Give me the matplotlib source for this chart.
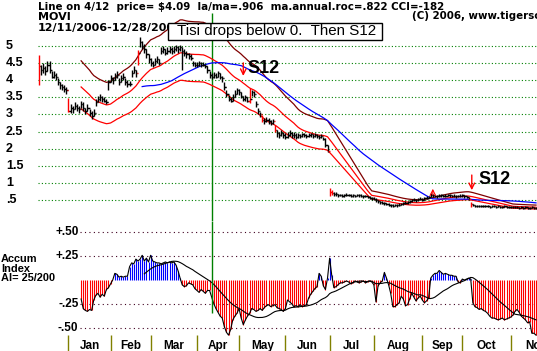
import numpy as np
import pandas as pd
import matplotlib
matplotlib.use("Agg")
import matplotlib.pyplot as plt
from matplotlib.patches import Rectangle

plt.rcParams['font.family'] = ['Liberation Sans', 'DejaVu Sans']

W, H = 537, 351

# daily bars, trading day 0 = 12/11/2006
closes = [4.40, 4.30, 4.35, 4.25, 4.45, 4.30, 4.10, 4.15, 4.10, 3.95,
          3.85, 3.80, 3.75, 3.70, 3.10, 3.20, 3.15, 3.25, 3.20, 3.15,
          3.30, 3.20, 3.10, 3.20, 3.05, 2.95, 3.05, 3.35, 3.45, 3.50,
          3.45, 3.40, 3.35, 3.95, 4.05, 4.00, 4.10, 4.15, 3.95, 4.05,
          4.10, 3.95, 3.90, 3.90, 4.20, 4.30, 4.20, 4.80, 5.10, 5.00,
          4.90, 4.75, 4.60, 4.50, 4.45, 4.55, 4.60, 4.50, 4.85, 4.90,
          4.80, 4.85, 4.90, 4.85, 4.90, 4.95, 4.90, 4.95, 4.85, 4.80,
          4.75, 4.70, 4.65, 4.50, 4.45, 4.45, 4.50, 4.45, 4.45, 4.40,
          4.30, 4.15, 4.09, 4.15, 4.10, 4.20, 4.10, 4.05, 3.80, 3.60,
          3.45, 3.40, 3.50, 3.60, 3.70, 3.65, 3.55, 3.45, 3.50, 3.40,
          3.45, 3.65, 3.60, 3.30, 3.10, 3.00, 2.85, 2.80, 2.85, 2.80,
          2.75, 2.80, 2.55, 2.45, 2.40, 2.45, 2.40, 2.35, 2.40, 2.45,
          2.40, 2.40, 2.35, 2.40, 2.38, 2.42, 2.40, 2.38, 2.40, 2.42,
          2.38, 2.40, 2.38, 2.35, 2.38, 2.30, 2.10, 1.95, 0.75, 0.72,
          0.70, 0.68, 0.65, 0.66, 0.64, 0.65, 0.67, 0.66, 0.64, 0.65,
          0.63, 0.66, 0.65, 0.64, 0.62, 0.63, 0.60, 0.58, 0.56, 0.55,
          0.50, 0.48, 0.45, 0.44, 0.42, 0.40, 0.38, 0.36, 0.35, 0.37,
          0.36, 0.38, 0.40, 0.42, 0.44, 0.45, 0.48, 0.50, 0.52, 0.50,
          0.53, 0.55, 0.52, 0.56, 0.58, 0.60, 0.66, 0.65, 0.63, 0.62,
          0.64, 0.65, 0.63, 0.64, 0.66, 0.65, 0.63, 0.64, 0.62, 0.63,
          0.64, 0.65, 0.62, 0.60, 0.55, 0.40, 0.36, 0.35, 0.34, 0.35,
          0.33, 0.34, 0.35, 0.33, 0.32, 0.33, 0.34, 0.32, 0.33, 0.31,
          0.32, 0.33, 0.30, 0.31, 0.32, 0.30, 0.31, 0.30, 0.29, 0.30,
          0.29, 0.30, 0.28, 0.29, 0.30, 0.28, 0.29]
highs = [4.73, 4.45, 4.50, 4.40, 4.55, 4.55, 4.25, 4.25, 4.20, 4.05,
         3.95, 3.90, 3.85, 3.80, 3.48, 3.30, 3.25, 3.36, 3.30, 3.25,
         3.40, 3.35, 3.20, 3.30, 3.15, 3.10, 3.15, 3.45, 3.55, 3.60,
         3.55, 3.50, 3.45, 4.00, 4.15, 4.10, 4.20, 4.25, 4.05, 4.15,
         4.20, 4.05, 4.00, 3.98, 4.30, 4.40, 4.30, 4.87, 5.25, 5.15,
         5.05, 4.90, 4.75, 4.65, 4.55, 4.65, 4.70, 4.60, 4.95, 5.00,
         4.90, 4.95, 4.98, 4.95, 4.98, 5.02, 4.98, 5.02, 4.95, 4.90,
         4.85, 4.80, 4.75, 4.55, 4.52, 4.52, 4.55, 4.52, 4.52, 4.48,
         4.40, 4.25, 4.20, 4.23, 4.20, 4.25, 4.20, 4.12, 3.94, 3.70,
         3.56, 3.50, 3.60, 3.70, 3.77, 3.75, 3.65, 3.55, 3.58, 3.50,
         3.77, 3.71, 3.68, 3.40, 3.20, 3.08, 2.98, 2.90, 2.93, 2.90,
         2.85, 2.88, 2.70, 2.55, 2.50, 2.55, 2.50, 2.45, 2.50, 2.55,
         2.50, 2.48, 2.45, 2.46, 2.44, 2.47, 2.45, 2.43, 2.46, 2.47,
         2.43, 2.46, 2.43, 2.40, 2.44, 2.36, 2.32, 2.10, 0.86, 0.80,
         0.76, 0.74, 0.70, 0.70, 0.68, 0.69, 0.71, 0.70, 0.68, 0.69,
         0.67, 0.70, 0.69, 0.68, 0.66, 0.67, 0.64, 0.62, 0.60, 0.59,
         0.56, 0.52, 0.49, 0.48, 0.46, 0.44, 0.42, 0.40, 0.39, 0.41,
         0.40, 0.42, 0.44, 0.46, 0.48, 0.49, 0.52, 0.54, 0.56, 0.54,
         0.57, 0.59, 0.56, 0.60, 0.62, 0.64, 0.72, 0.69, 0.67, 0.66,
         0.68, 0.69, 0.67, 0.68, 0.70, 0.69, 0.67, 0.68, 0.66, 0.67,
         0.68, 0.69, 0.66, 0.64, 0.60, 0.45, 0.39, 0.38, 0.37, 0.38,
         0.36, 0.37, 0.38, 0.36, 0.35, 0.36, 0.37, 0.35, 0.36, 0.34,
         0.35, 0.36, 0.33, 0.34, 0.35, 0.33, 0.34, 0.33, 0.32, 0.33,
         0.32, 0.33, 0.31, 0.32, 0.33, 0.31, 0.32]
lows = [3.86, 4.15, 4.20, 4.15, 4.25, 4.20, 4.05, 4.05, 4.00, 3.85,
        3.75, 3.70, 3.65, 3.60, 3.07, 3.05, 3.05, 3.15, 3.10, 3.05,
        3.20, 3.10, 3.00, 3.10, 2.95, 2.88, 2.95, 3.25, 3.35, 3.40,
        3.35, 3.35, 3.30, 3.70, 3.95, 3.90, 4.00, 4.05, 3.85, 3.95,
        4.00, 3.85, 3.80, 3.82, 4.10, 4.20, 4.10, 4.44, 4.95, 4.90,
        4.80, 4.65, 4.50, 4.40, 4.38, 4.45, 4.50, 4.45, 4.75, 4.80,
        4.72, 4.75, 4.80, 4.75, 4.80, 4.85, 4.80, 4.85, 4.29, 4.70,
        4.65, 4.62, 4.58, 4.42, 4.38, 4.38, 4.42, 4.38, 4.40, 4.35,
        4.20, 4.05, 4.02, 4.06, 4.05, 4.10, 4.02, 3.95, 3.70, 3.50,
        3.38, 3.35, 3.40, 3.52, 3.60, 3.58, 3.48, 3.38, 3.40, 3.35,
        3.33, 3.55, 3.50, 3.22, 3.02, 2.92, 2.78, 2.72, 2.78, 2.72,
        2.70, 2.72, 2.48, 2.35, 2.32, 2.38, 2.32, 2.30, 2.33, 2.38,
        2.33, 2.33, 2.30, 2.33, 2.32, 2.36, 2.34, 2.32, 2.34, 2.36,
        2.32, 2.34, 2.32, 2.30, 2.32, 2.25, 2.05, 1.90, 0.62, 0.65,
        0.64, 0.62, 0.60, 0.62, 0.60, 0.61, 0.63, 0.62, 0.60, 0.61,
        0.59, 0.62, 0.61, 0.60, 0.58, 0.59, 0.56, 0.54, 0.52, 0.51,
        0.47, 0.44, 0.41, 0.40, 0.38, 0.36, 0.34, 0.32, 0.31, 0.33,
        0.32, 0.34, 0.36, 0.38, 0.40, 0.41, 0.44, 0.46, 0.48, 0.46,
        0.49, 0.51, 0.48, 0.52, 0.54, 0.56, 0.60, 0.61, 0.59, 0.58,
        0.60, 0.61, 0.59, 0.60, 0.62, 0.61, 0.59, 0.60, 0.58, 0.59,
        0.60, 0.61, 0.58, 0.56, 0.52, 0.30, 0.33, 0.32, 0.31, 0.32,
        0.30, 0.31, 0.32, 0.30, 0.29, 0.30, 0.31, 0.29, 0.30, 0.28,
        0.29, 0.30, 0.27, 0.28, 0.29, 0.27, 0.28, 0.27, 0.26, 0.27,
        0.26, 0.27, 0.25, 0.26, 0.27, 0.25, 0.26]
red_bar_days = [0, 14, 47, 100, 106, 112, 138, 139, 205]

# accumulation index, starts on day 20
ai_start = 20
ai = [-0.20, -0.30, -0.32, -0.33, -0.31, -0.32, -0.21, -0.16, -0.14, -0.18,
      -0.15, -0.17, -0.10, -0.08, -0.04, 0.00, 0.07, 0.06, 0.03, 0.04,
      0.03, 0.04, 0.04, 0.14, 0.18, 0.17, 0.22, 0.20, 0.22, 0.26,
      0.20, 0.23, 0.19, 0.26, 0.20, 0.19, 0.18, 0.18, 0.17, 0.18,
      0.19, 0.18, 0.19, 0.18, 0.19, 0.16, 0.10, 0.02, -0.05, -0.07,
      -0.06, -0.03, -0.04, -0.05, -0.09, -0.11, -0.13, -0.10, -0.12, -0.14,
      -0.11, -0.11, -0.18, -0.25, -0.30, -0.34, -0.38, -0.40, -0.49, -0.55,
      -0.58, -0.52, -0.42, -0.38, -0.35, -0.30, -0.40, -0.47, -0.42, -0.38,
      -0.35, -0.30, -0.31, -0.33, -0.32, -0.30, -0.32, -0.29, -0.27, -0.26,
      -0.28, -0.27, -0.26, -0.29, -0.30, -0.31, -0.33, -0.30, -0.21, -0.23,
      -0.25, -0.28, -0.27, -0.28, -0.26, -0.28, -0.27, -0.26, -0.19, -0.15,
      -0.12, -0.09, -0.07, 0.07, 0.04, -0.06, -0.10, 0.02, 0.23, 0.05,
      -0.08, -0.07, -0.05, -0.03, -0.03, -0.02, -0.01, -0.02, -0.04, -0.03,
      -0.01, -0.02, -0.03, -0.02, -0.01, -0.03, -0.02, -0.01, -0.02, -0.05,
      -0.23, -0.06, -0.03, -0.01, 0.08, 0.02, -0.05, -0.14, -0.28, -0.28,
      -0.26, -0.24, -0.17, -0.20, -0.27, -0.26, -0.20, -0.14, -0.18, -0.22,
      -0.19, -0.17, -0.21, -0.24, -0.22, -0.19, 0.02, 0.05, 0.07, 0.07,
      0.10, 0.08, 0.06, 0.07, 0.06, 0.05, 0.05, 0.04, 0.04, -0.02,
      -0.03, 0.01, 0.00, 0.01, 0.02, 0.01, -0.24, -0.28, -0.29, -0.31,
      -0.30, -0.32, -0.33, -0.35, -0.38, -0.40, -0.40, -0.41, -0.42, -0.41,
      -0.40, -0.42, -0.41, -0.40, -0.39, -0.37, -0.33, -0.31, -0.34, -0.38,
      -0.40, -0.42, -0.45, -0.44, -0.56, -0.56, -0.58]

month_starts = [14, 34, 53, 75, 95, 117, 138, 159, 182, 201, 224, 245]
month_names = ["Jan", "Feb", "Mar", "Apr", "May", "Jun", "Jul", "Aug", "Sep", "Oct", "No"]
price_levels = [5, 4.5, 4, 3.5, 3, 2.5, 2, 1.5, 1, 0.5]
price_labels = ["5", "4.5", "4", "3.5", "3", "2.5", "2", "1.5", "1", ".5"]
ai_levels = [0.5, 0.25, -0.25, -0.5]
ai_labels = ["+.50", "+.25", "-.25", "-.50"]
line_day = 82
s12_days = [97, 205.5]
s12_top = [4.50, 1.24]
s12_tip = [4.12, 0.80]
s12_text_pos = [(99.2, 4.34), (208.5, 1.10)]
buy_days = [187]
buy_base = [0.66]
buy_tip = [0.84]

days = np.arange(len(closes))
close_s = pd.Series(closes)
ma21 = close_s.rolling(21).mean()
ma50 = close_s.rolling(50).mean()
ai_days = np.arange(len(ai)) + ai_start
ai_ma = pd.Series(ai).rolling(21).mean()

xlim = (-39 / 2.106, 498 / 2.106)
BOLDFONT = ['DejaVu Sans']

fig = plt.figure(figsize=(W / 100, H / 100), dpi=100)
ax = fig.add_axes([0, 130 / H, 1, 221 / H])
ax2 = fig.add_axes([0, 0, 1, 130 / H])
for a in (ax, ax2):
    a.set_xlim(*xlim)
    a.set_axis_off()
ax.set_ylim(-0.096, 6.328)
ax2.set_ylim(-0.747, 0.621)

# price panel
ax.hlines(price_levels, -0.5, xlim[1], colors="#008000", lw=0.8, linestyles=(0, (1, 2)))
for lev, lab in zip(price_levels, price_labels):
    ax.text(xlim[0] + 6 / 2.106, lev, lab, ha="left", va="center", fontsize=9, fontweight="bold")

ax.vlines(line_day, -0.096, 5.95, colors="#008000", lw=1)

bar_cols = ["red" if d in red_bar_days else "black" for d in days]
ax.vlines(days, lows, highs, colors=bar_cols, lw=1, zorder=3)
ax.hlines(closes, days, days + 0.6, colors=bar_cols, lw=1, zorder=3)
ax.hlines(closes[:-1], days[1:] - 0.6, days[1:], colors=bar_cols[1:], lw=1, zorder=3)

ax.plot(days, ma21 * 1.2, color="#800000", lw=0.9, zorder=2)
ax.plot(days, ma21, color="red", lw=0.9, zorder=2)
ax.plot(days, ma21 / 1.2, color="red", lw=0.9, zorder=2)
ax.plot(days, ma50, color="blue", lw=0.9, zorder=2)

for d, t, b in zip(s12_days, s12_top, s12_tip):
    ax.annotate("", xy=(d, b), xytext=(d, t),
                arrowprops=dict(arrowstyle="->", color="red", lw=1, shrinkA=0, shrinkB=0))
for d, b, t in zip(buy_days, buy_base, buy_tip):
    ax.annotate("", xy=(d, t), xytext=(d, b),
                arrowprops=dict(arrowstyle="->", color="red", lw=0.8, shrinkA=0, shrinkB=0))
for x, y in s12_text_pos:
    ax.text(x, y, "S12", fontsize=13, fontweight="bold", ha="left", va="center")

# accumulation index panel
ax2.hlines(ai_levels, 19.5, xlim[1], colors="#400020", lw=0.8, linestyles=(0, (1, 3)))
for lev, lab in zip(ai_levels, ai_labels):
    ax2.text((78.5 - 39) / 2.106, lev, lab, ha="right", va="center", fontsize=8.5, fontweight="bold")
ai_cols = ["blue" if v > 0 else "red" for v in ai]
ax2.vlines(ai_days, 0, ai, colors=ai_cols, lw=0.8)
ax2.plot(ai_days, ai, color="black", lw=0.8)
ax2.plot(ai_days[30:], ai_ma[30:], color="black", lw=0.8)
ax2.vlines(line_day, -0.347, 0.621, colors="#008000", lw=1)

ax2.vlines(month_starts[:-1], -0.747, -0.579, colors="#808000", lw=1)
for i, name in enumerate(month_names):
    mid = (month_starts[i] + month_starts[i + 1]) / 2
    ax2.text(mid, -0.69, name, ha="center", va="center", fontsize=8.5, fontweight="bold")

# header texts
def fx(px):
    return px / W

def fy(py):
    return 1 - py / H

fig.text(fx(38), fy(7.5), "Line on 4/12  price= $4.09  la/ma=.906  ma.annual.roc=.822 CCI=-182",
         fontsize=7.4, fontweight="bold", va="center", family=BOLDFONT)
fig.text(fx(38), fy(17.5), "MOVI", fontsize=8, fontweight="bold", va="center", family=BOLDFONT)
fig.text(fx(38), fy(28), "12/11/2006-12/28/2007", fontsize=8, fontweight="bold", va="center",
         family=BOLDFONT)
fig.text(fx(412), fy(16), "(C) 2006, www.tigersoft.com", fontsize=7.4, fontweight="bold",
         va="center", family=BOLDFONT)
box = Rectangle((fx(168), fy(40)), fx(382) - fx(168), fy(23) - fy(40), transform=fig.transFigure,
                facecolor="white", edgecolor="black", lw=1, zorder=4)
fig.add_artist(box)
fig.text(fx(177), fy(31.5), "Tisi drops below 0.  Then S12", fontsize=10.9, va="center", zorder=5)
fig.text(fx(1), fy(268.5), "Accum\nIndex\nAI= 25/200", fontsize=7.9, fontweight="bold",
         va="center", linespacing=0.91)

fig.savefig("out.png", dpi=100)
